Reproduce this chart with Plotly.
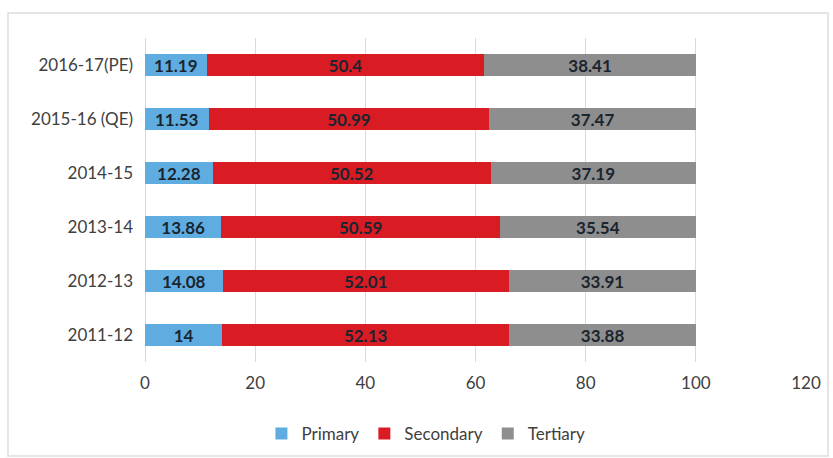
import plotly.graph_objects as go

years = ["2011-12", "2012-13", "2013-14", "2014-15", "2015-16 (QE)", "2016-17(PE)"]
primary = [14, 14.08, 13.86, 12.28, 11.53, 11.19]
secondary = [52.13, 52.01, 50.59, 50.52, 50.99, 50.4]
tertiary = [33.88, 33.91, 35.54, 37.19, 37.47, 38.41]

series = [
    ("Primary", primary, "#5fade0"),
    ("Secondary", secondary, "#d91c24"),
    ("Tertiary", tertiary, "#8e8e8e"),
]

fig = go.Figure()
for name, vals, color in series:
    fig.add_trace(go.Bar(
        y=years, x=vals, name=name, orientation="h",
        marker=dict(color=color, line=dict(width=0)),
        text=[f"{v:g}" for v in vals], textposition="inside", textangle=0,
        insidetextanchor="middle", constraintext="none",
        textfont=dict(family="Lato", size=17, color="#1b2530", weight="bold"),
    ))

grid = "#dcd8d4"
# plot area: 145..806 px wide, 38..362 px tall
fig.update_layout(
    barmode="stack", bargap=0.61,
    width=833, height=458,
    margin=dict(l=145, r=27, t=38, b=96, autoexpand=False),
    paper_bgcolor="white", plot_bgcolor="white",
    font=dict(family="Lato", size=17, color="#404040"),
    legend=dict(orientation="h", x=0.425, xanchor="center",
                yref="container", y=24 / 458, yanchor="middle",
                font=dict(size=17, color="#404040"), traceorder="normal",
                itemwidth=30, itemsizing="constant"),
    xaxis=dict(range=[0, 120], dtick=20, showgrid=True, gridcolor=grid,
               gridwidth=1, zeroline=True, zerolinecolor=grid, zerolinewidth=1,
               showline=False, ticks="", tickfont=dict(size=17, color="#404040"),
               ticklabelstandoff=9),
    yaxis=dict(type="category", categoryorder="array", categoryarray=years,
               showgrid=False, ticks="", showline=False, ticklabelstandoff=11,
               tickfont=dict(size=17, color="#404040")),
    shapes=[dict(type="rect", xref="paper", yref="paper",
                 x0=-0.2073, x1=1.0333, y0=(362 - 456) / 324, y1=(362 - 13) / 324,
                 line=dict(color="#e0dcd8", width=1.5))],
)

fig.write_html("out.html")
